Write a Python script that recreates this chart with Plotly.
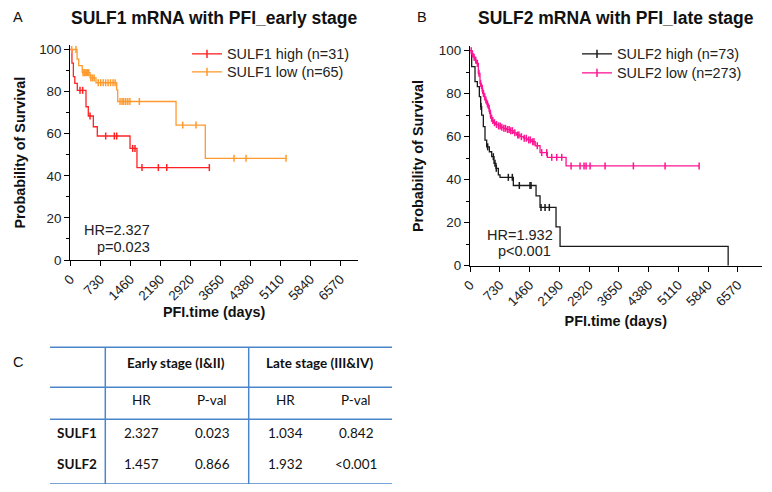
import numpy as np
import plotly.graph_objects as go

# The page adds an 8px body margin, so the figure is 16px smaller than the window
# and every reference pixel coordinate is shifted by -8.
OFF = 8
W, H = 772 - 2 * OFF, 492 - 2 * OFF
def px(x): return (x - OFF) / W
def py(y): return 1 - (y - OFF) / H

# ---------------- Data ----------------
# Panel A: SULF1, early stage
a_high_t = [0, 40, 75, 110, 170, 382, 438, 560, 657, 1453, 1622, 3383]
a_high_s = [100, 93.5, 87.1, 83.9, 80.6, 72.8, 68.4, 63.3, 58.9, 53.0, 43.9, 43.9]
a_high_cens = [236, 301, 480, 861, 1071, 1129, 1518, 1574, 1744, 2142, 2347, 3383]

a_low_t = [0, 165, 205, 290, 480, 625, 1129, 1153, 2573, 3285, 5250]
a_low_s = [100, 95.4, 92.3, 89.0, 86.5, 84.2, 80.8, 75.3, 64.1, 48.3, 48.3]
a_low_cens = [33, 138, 310, 340, 360, 390, 420, 450, 500, 540, 580, 680, 740, 800, 860,
              920, 980, 1040, 1090, 1210, 1260, 1300, 1350, 1400, 1450, 1680, 2735,
              3059, 3984, 4276, 5250]

# Panel B: SULF2, late stage
b_high_t = [0, 41, 123, 180, 229, 262, 286, 327, 368, 409, 475, 532, 589, 638, 695,
            736, 1063, 1620, 1718, 2110, 2209, 6332]
b_high_s = [100, 92.6, 85.6, 83.3, 78.6, 74.0, 70.0, 64.7, 58.4, 55.3, 53.0, 50.7,
            47.6, 45.3, 42.2, 41.1, 37.3, 32.5, 27.1, 18.1, 9.0, 0]
b_high_cens = [270, 434, 572, 613, 645, 940, 1038, 1210, 1472, 1497, 1742, 1841, 1946]

b_low_t = [0, 40, 81, 120, 164, 204, 245, 280, 311, 340, 368, 410, 450, 480, 507, 540,
           572, 630, 695, 760, 818, 900, 982, 1060, 1145, 1230, 1309, 1400, 1513, 1600,
           1718, 1897, 2356, 5620]
b_low_s = [100, 98.5, 97.0, 95.6, 94.1, 89.5, 84.8, 82.5, 80.2, 78.6, 77.1, 75.2, 73.2,
           70.9, 68.6, 67.5, 66.5, 65.7, 65.0, 64.4, 63.9, 63.3, 62.8, 61.8, 60.8, 60.0,
           59.3, 58.5, 57.7, 55.8, 52.6, 50.4, 46.4, 46.4]
b_low_cens = [30, 60, 100, 140, 180, 220, 260, 300, 330, 360, 390, 430, 470, 500, 530,
              560, 600, 650, 700, 740, 780, 830, 870, 920, 960, 1000, 1040, 1100, 1170,
              1200, 1260, 1330, 1380, 1440, 1480, 1540, 1570, 1650, 1759, 1882, 2005,
              2127, 2250, 2479, 2699, 2797, 2847, 2945, 3313, 4008, 4785, 5620]

x_ticks = [0, 730, 1460, 2190, 2920, 3650, 4380, 5110, 5840, 6570]

# Table C
tbl_groups = ["Early stage (I&II)", "Late stage (III&IV)"]
tbl_sub = ["HR", "P-val", "HR", "P-val"]
tbl_genes = ["SULF1", "SULF2"]
tbl_vals = [["2.327", "0.023", "1.034", "0.842"],
            ["1.457", "0.866", "1.932", "<0.001"]]

RED = "#FF2222"
ORANGE = "#FF9A2E"
BLACK = "#1a1a1a"
PINK = "#FF1493"
FONT = "Liberation Sans, Arial, sans-serif"
TFONT = "Lato, Open Sans, sans-serif"

fig = go.Figure()

def km(t, s, cens, color, xa, ya, name, legend):
    t = np.array(t, dtype=float)
    s = np.array(s, dtype=float)
    fig.add_trace(go.Scatter(x=t, y=s, mode="lines",
                             line=dict(color=color, width=1.3, shape="hv"),
                             xaxis=xa, yaxis=ya, showlegend=False, hoverinfo="skip"))
    c = np.array(cens, dtype=float)
    idx = np.searchsorted(t, c, side="right") - 1
    fig.add_trace(go.Scatter(x=c, y=s[idx], mode="markers", cliponaxis=False,
                             marker=dict(symbol="line-ns", size=5,
                                         line=dict(color=color, width=1.5)),
                             xaxis=xa, yaxis=ya, showlegend=False, hoverinfo="skip"))
    fig.add_trace(go.Scatter(x=[None], y=[None], mode="lines+markers", name=name,
                             line=dict(color=color, width=1.3),
                             marker=dict(symbol="line-ns", size=6,
                                         line=dict(color=color, width=1.5)),
                             xaxis=xa, yaxis=ya, legend=legend))

km(a_high_t, a_high_s, a_high_cens, RED, "x", "y", "SULF1 high (n=31)", "legend")
km(a_low_t, a_low_s, a_low_cens, ORANGE, "x", "y", "SULF1 low (n=65)", "legend2")
km(b_high_t, b_high_s, b_high_cens, BLACK, "x2", "y2", "SULF2 high (n=73)", "legend3")
km(b_low_t, b_low_s, b_low_cens, PINK, "x2", "y2", "SULF2 low (n=273)", "legend4")

def xax(domain, rng, anchor, standoff):
    return dict(domain=domain, range=rng, tickvals=x_ticks, tickangle=-45, anchor=anchor,
                ticks="outside", ticklen=5, tickwidth=1.2, tickcolor="black",
                showline=True, linecolor="black", linewidth=1.3, showgrid=False,
                zeroline=False, tickfont=dict(family=FONT, size=13.4, color="#222"),
                title=dict(text="<b>PFI.time (days)</b>", standoff=standoff,
                           font=dict(family=FONT, size=14.4, color="#111")),
                automargin=False, fixedrange=True)

def yax(domain, anchor, standoff):
    return dict(domain=domain, range=[0, 102], tick0=0, dtick=20, anchor=anchor,
                ticks="outside", ticklen=5, tickwidth=1.2, tickcolor="black",
                minor=dict(dtick=10, ticks="outside", ticklen=3, tickcolor="black",
                           tickwidth=1.2, showgrid=False),
                showline=True, linecolor="black", linewidth=1.3, showgrid=False,
                zeroline=False, tickfont=dict(family=FONT, size=13.4, color="#222"),
                title=dict(text="<b>Probability of Survival</b>", standoff=standoff,
                           font=dict(family=FONT, size=14.4, color="#111")),
                automargin=False, fixedrange=True)

def leg(x, y_top):
    return dict(x=px(x), y=py(y_top), xanchor="left", yanchor="top",
                bgcolor="rgba(0,0,0,0)", font=dict(family=FONT, size=14.4, color="#222"))

# Panel A: y 0 at 260px, 100 at 49.5px -> 102 at 45.3
# Panel B: y 0 at 265.7px, 100 at 50.7px -> 102 at 46.4
fig.update_layout(
    width=W, height=H, margin=dict(l=0, r=0, t=0, b=0),
    paper_bgcolor="white", plot_bgcolor="white",
    xaxis=xax([px(70.3), px(358)], [0, 7000], "y", 4),
    xaxis2=xax([px(470), px(761.5)], [0, 7150], "y2", 7),
    yaxis=yax([py(260), py(45.3)], "x", 10),
    yaxis2=yax([py(265.7), py(46.4)], "x2", 11),
    legend=leg(187, 38), legend2=leg(187, 56),
    legend3=leg(577, 38), legend4=leg(577, 57),
    showlegend=True,
)

ann = []
def text(x, y, s, size, bold=False, family=FONT, xanchor="center", color="#111"):
    ann.append(dict(x=px(x), y=py(y), xref="paper", yref="paper", text=(f"<b>{s}</b>" if bold else s),
                    showarrow=False, xanchor=xanchor, yanchor="middle",
                    font=dict(family=family, size=size, color=color)))

text(18, 17, "A", 14.5, xanchor="center")
text(214, 18, "SULF1 mRNA with PFI_early stage", 17.5, bold=True)
text(422, 17, "B", 14.5, xanchor="center")
text(616, 18, "SULF2 mRNA with PFI_late stage", 17.5, bold=True)
text(152, 230, "HR=2.327", 14.5, xanchor="right", color="#222")
text(152, 247, "p=0.023", 14.5, xanchor="right", color="#222")
text(555, 235, "HR=1.932", 14.5, xanchor="right", color="#222")
text(553, 251, "p<0.001", 14.5, xanchor="right", color="#222")

# Table C
text(18, 362, "C", 14.5)
group_x = [176.3, 320]
sub_x = [141.7, 212, 285, 356]
row_y = [432.7, 464.3]
for gx, g in zip(group_x, tbl_groups):
    text(gx, 363.3, g, 13.5, bold=True, family=TFONT, color="#111")
for sx, s in zip(sub_x, tbl_sub):
    text(sx, 400, s, 13.5, family=TFONT, color="#111")
for ry, gname, vals in zip(row_y, tbl_genes, tbl_vals):
    text(76.7, ry, gname, 13.5, bold=True, family=TFONT, color="#111")
    for sx, v in zip(sub_x, vals):
        text(sx, ry, v, 13.5, family=TFONT, color="#111")

shapes = []
TBL = "#4A86C8"
for yy in [347.3, 387.3, 419.3, 484]:
    shapes.append(dict(type="line", xref="paper", yref="paper", x0=px(50), x1=px(392),
                       y0=py(yy), y1=py(yy), line=dict(color=TBL, width=1.5)))
for xx in [105.3, 248.7]:
    shapes.append(dict(type="line", xref="paper", yref="paper", x0=px(xx), x1=px(xx),
                       y0=py(347.3), y1=py(484), line=dict(color=TBL, width=1.5)))

fig.update_layout(annotations=ann, shapes=shapes)
fig.write_html("out.html")
